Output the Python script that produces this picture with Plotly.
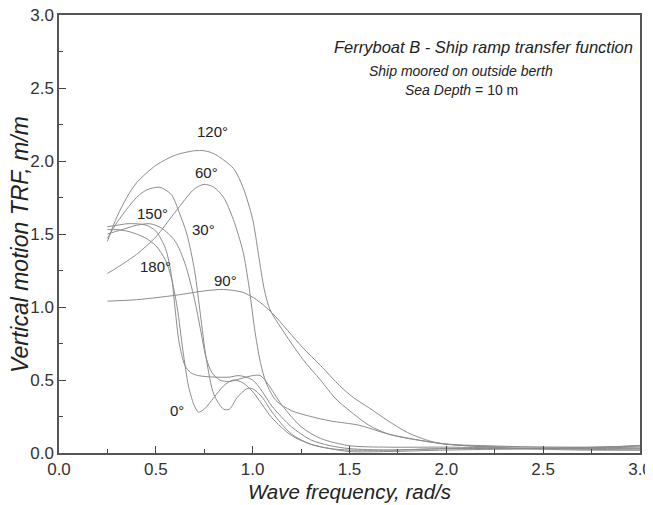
import plotly.graph_objects as go

# ---- data ----
x_120 = [0.25, 0.3, 0.35, 0.4, 0.5, 0.6, 0.7, 0.75, 0.8, 0.9, 0.95, 1.0, 1.03, 1.06, 1.09, 1.15, 1.26, 1.35, 1.43, 1.5, 1.6, 1.7, 1.8, 1.92, 2.0, 2.2, 2.5, 2.8, 3.0]
y_120 = [1.45, 1.62, 1.75, 1.85, 1.97, 2.04, 2.07, 2.07, 2.05, 1.95, 1.82, 1.6, 1.36, 1.12, 0.98, 0.85, 0.64, 0.5, 0.37, 0.29, 0.19, 0.13, 0.1, 0.075, 0.06, 0.05, 0.04, 0.04, 0.05]

x_60 = [0.25, 0.3, 0.4, 0.5, 0.6, 0.7, 0.75, 0.8, 0.85, 0.9, 0.95, 0.98, 1.01, 1.04, 1.07, 1.12, 1.2, 1.3, 1.4, 1.55, 1.7, 1.92, 2.1, 2.4, 2.7, 3.0]
y_60 = [1.23, 1.27, 1.36, 1.48, 1.65, 1.81, 1.84, 1.82, 1.75, 1.6, 1.38, 1.15, 0.85, 0.62, 0.48, 0.36, 0.29, 0.25, 0.22, 0.19, 0.13, 0.075, 0.05, 0.03, 0.02, 0.02]

x_90 = [0.25, 0.4, 0.6, 0.75, 0.85, 0.95, 1.02, 1.1, 1.18, 1.26, 1.35, 1.45, 1.52, 1.6, 1.7, 1.8, 1.92, 2.0, 2.2, 2.5, 2.8, 3.0]
y_90 = [1.04, 1.05, 1.08, 1.11, 1.12, 1.1, 1.05, 0.96, 0.84, 0.72, 0.6, 0.46, 0.38, 0.31, 0.22, 0.14, 0.08, 0.06, 0.045, 0.04, 0.04, 0.05]

x_0 = [0.25, 0.3, 0.35, 0.4, 0.45, 0.5, 0.55, 0.58, 0.61, 0.64, 0.67, 0.7, 0.72, 0.75, 0.8, 0.85, 0.9, 0.95, 1.0, 1.05, 1.1, 1.2, 1.3, 1.4, 1.5, 1.7, 2.0, 2.5, 3.0]
y_0 = [1.53, 1.53, 1.52, 1.5, 1.47, 1.42, 1.32, 1.2, 1.0, 0.7, 0.45, 0.32, 0.28, 0.3, 0.38, 0.46, 0.5, 0.48, 0.42, 0.33, 0.24, 0.12, 0.06, 0.03, 0.02, 0.02, 0.03, 0.03, 0.04]

x_180 = [0.25, 0.3, 0.35, 0.4, 0.45, 0.5, 0.55, 0.58, 0.6, 0.62, 0.65, 0.68, 0.72, 0.8, 0.88, 0.93, 1.0, 1.05, 1.1, 1.2, 1.3, 1.4, 1.5, 1.7, 2.0, 2.5, 3.0]
y_180 = [1.55, 1.56, 1.57, 1.57, 1.56, 1.52, 1.4, 1.22, 0.98, 0.76, 0.6, 0.55, 0.53, 0.52, 0.52, 0.53, 0.5, 0.42, 0.32, 0.18, 0.09, 0.05, 0.03, 0.02, 0.03, 0.03, 0.05]

x_150 = [0.25, 0.3, 0.35, 0.4, 0.45, 0.52, 0.58, 0.62, 0.66, 0.7, 0.73, 0.76, 0.8, 0.85, 0.88, 0.92, 0.97, 1.0, 1.05, 1.1, 1.2, 1.3, 1.4, 1.5, 1.7, 2.0, 2.5, 3.0]
y_150 = [1.47, 1.58, 1.67, 1.75, 1.8, 1.82, 1.77, 1.65, 1.5, 1.25, 0.95, 0.65, 0.4, 0.3, 0.3, 0.38, 0.44, 0.44, 0.38, 0.28, 0.13, 0.06, 0.03, 0.01, 0.01, 0.02, 0.03, 0.03]

x_30 = [0.25, 0.3, 0.35, 0.4, 0.47, 0.53, 0.6, 0.65, 0.7, 0.73, 0.76, 0.79, 0.83, 0.88, 0.94, 1.0, 1.04, 1.08, 1.15, 1.25, 1.35, 1.5, 1.7, 2.0, 2.5, 3.0]
y_30 = [1.5, 1.52, 1.54, 1.56, 1.57, 1.54, 1.45, 1.3, 1.05, 0.85, 0.65, 0.55, 0.5, 0.49, 0.51, 0.53, 0.53, 0.47, 0.33, 0.18, 0.1, 0.05, 0.04, 0.04, 0.03, 0.02]

series = [(x_0, y_0), (x_30, y_30), (x_60, y_60), (x_90, y_90),
          (x_120, y_120), (x_150, y_150), (x_180, y_180)]

label_text = ["120°", "60°", "150°", "30°", "180°", "90°", "0°"]
label_x = [0.79, 0.76, 0.485, 0.745, 0.50, 0.86, 0.61]
label_y = [2.20, 1.92, 1.64, 1.53, 1.28, 1.18, 0.29]

x_ticks = [0.0, 0.5, 1.0, 1.5, 2.0, 2.5, 3.0]
y_ticks = [0.0, 0.5, 1.0, 1.5, 2.0, 2.5, 3.0]

FONT = "Liberation Sans, Arial, sans-serif"

fig = go.Figure()
for xs, ys in series:
    fig.add_trace(go.Scatter(x=xs, y=ys, mode="lines",
                             line=dict(color="#8c8c8c", width=1, shape="spline", smoothing=0.8),
                             showlegend=False, hoverinfo="skip"))

for t, lx, ly in zip(label_text, label_x, label_y):
    fig.add_annotation(x=lx, y=ly, text=t, showarrow=False,
                       font=dict(family=FONT, size=15, color="#222"))

fig.add_annotation(xref="paper", yref="paper", x=0.73, y=0.927, xanchor="center", yanchor="middle",
                   text="<i>Ferryboat B - Ship ramp transfer function</i>",
                   showarrow=False, font=dict(family=FONT, size=16.5, color="#222"))
fig.add_annotation(xref="paper", yref="paper", x=0.692, y=0.873, xanchor="center", yanchor="middle",
                   text="<i>Ship moored on outside berth</i>",
                   showarrow=False, font=dict(family=FONT, size=14, color="#222"))
fig.add_annotation(xref="paper", yref="paper", x=0.693, y=0.829, xanchor="center", yanchor="middle",
                   text="<i>Sea Depth</i> = 10 m",
                   showarrow=False, font=dict(family=FONT, size=14, color="#222"))

# y-axis title (placed as annotation so it can sit where the reference has it)
fig.add_annotation(xref="paper", yref="paper", x=-0.067, y=0.475, xanchor="center", yanchor="middle",
                   text="<i>Vertical motion TRF, m/m</i>", textangle=-90,
                   showarrow=False, font=dict(family=FONT, size=23, color="#222"))

axis_common = dict(range=[0, 3], ticks="inside", ticklen=7, tickwidth=1, tickcolor="#444",
                   showline=True, linecolor="#555", linewidth=1.5, mirror=True,
                   showgrid=False, zeroline=False, tickformat=".1f", automargin=False,
                   ticklabeloverflow="allow",
                   tickfont=dict(family=FONT, size=17, color="#333"),
                   minor=dict(ticks="inside", ticklen=4, dtick=0.25, tickcolor="#444", showgrid=False))

fig.update_xaxes(**axis_common, tickvals=x_ticks,
                 title=dict(text="<i>Wave frequency, rad/s</i>", font=dict(family=FONT, size=20.5, color="#222"), standoff=6))
fig.update_yaxes(**axis_common, tickvals=y_ticks)

# the page body adds an 8 px margin, so the figure is 8 px smaller and margins shifted
fig.update_layout(width=645, height=497, margin=dict(l=51, r=13, t=7, b=52),
                  plot_bgcolor="white", paper_bgcolor="white")

fig.write_html("out.html")
